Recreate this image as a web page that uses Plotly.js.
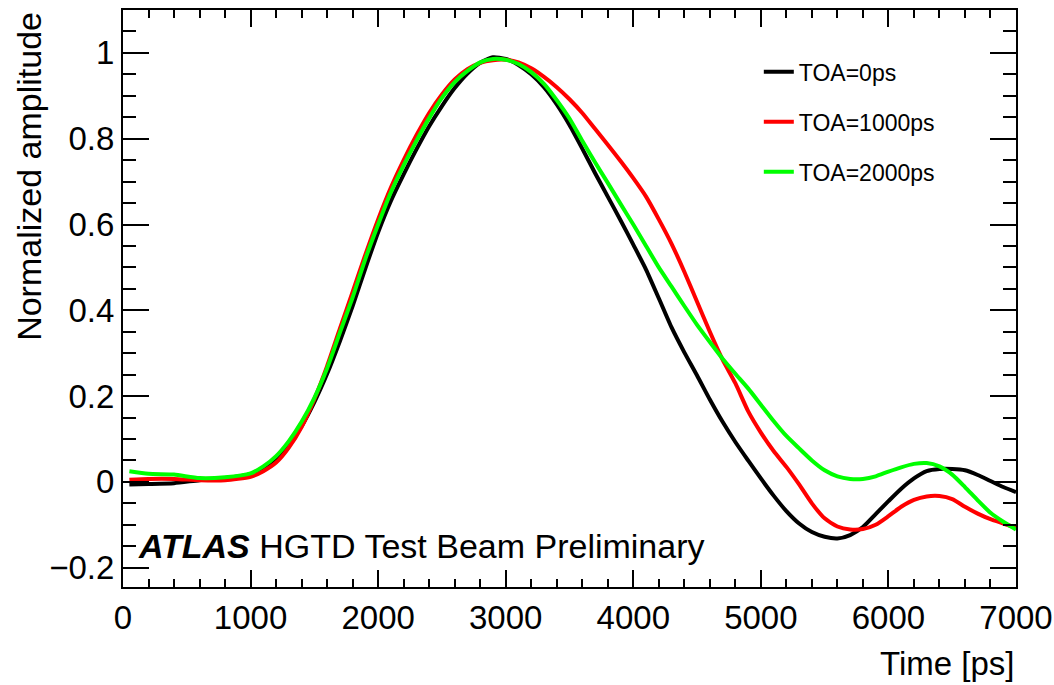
<!DOCTYPE html>
<html>
<head>
<meta charset="utf-8">
<script src="https://cdn.plot.ly/plotly-3.0.1.min.js"></script>
<style>
  html, body { margin: 0; padding: 0; background: #ffffff; }
  #chart { width: 1054px; height: 685px; }
</style>
</head>
<body>
<div id="chart"></div>
<script>
// Time samples [ps]
const timePs = [50, 200, 400, 600, 800,
  1000, 1100, 1200, 1300, 1400, 1500, 1600, 1700, 1800, 1900,
  2000, 2100, 2200, 2300, 2400, 2500, 2600, 2700, 2800, 2900,
  3000, 3100, 3200, 3300, 3400, 3500, 3600, 3700, 3800, 3900,
  4000, 4100, 4200, 4300, 4400, 4500, 4600, 4700, 4800, 4900,
  5000, 5100, 5200, 5300, 5400, 5500, 5600, 5700, 5800, 5900,
  6000, 6100, 6200, 6300, 6400, 6500, 6600, 6700, 6800, 6900, 7000];

// TOA = 0 ps (black)
const toa0 = [-0.006, -0.005, -0.003, 0.004, 0.009,
  0.018, 0.030, 0.052, 0.088, 0.130, 0.186, 0.252, 0.328, 0.410, 0.498,
  0.582, 0.655, 0.717, 0.775, 0.829, 0.876, 0.918, 0.952, 0.977, 0.990,
  0.986, 0.972, 0.950, 0.920, 0.880, 0.832, 0.777, 0.720, 0.665, 0.610,
  0.553, 0.495, 0.428, 0.360, 0.302, 0.248, 0.192, 0.140, 0.093, 0.050,
  0.008, -0.032, -0.068, -0.097, -0.117, -0.128, -0.132, -0.124, -0.105, -0.075,
  -0.045, -0.016, 0.008, 0.025, 0.030, 0.030, 0.027, 0.016, 0.002, -0.012, -0.024];

// TOA = 1000 ps (red)
const toa1000 = [0.005, 0.007, 0.007, 0.004, 0.004,
  0.012, 0.025, 0.045, 0.080, 0.128, 0.193, 0.270, 0.357, 0.443, 0.530,
  0.612, 0.686, 0.750, 0.808, 0.860, 0.903, 0.938, 0.962, 0.977, 0.983,
  0.984, 0.978, 0.964, 0.944, 0.920, 0.892, 0.860, 0.823, 0.786, 0.748,
  0.708, 0.665, 0.612, 0.555, 0.490, 0.420, 0.350, 0.285, 0.230, 0.165,
  0.115, 0.072, 0.035, -0.006, -0.050, -0.085, -0.104, -0.111, -0.110, -0.100,
  -0.080, -0.058, -0.042, -0.034, -0.033, -0.040, -0.058, -0.074, -0.087, -0.097, -0.107];

// TOA = 2000 ps (green)
const toa2000 = [0.025, 0.019, 0.017, 0.009, 0.011,
  0.020, 0.036, 0.060, 0.095, 0.140, 0.196, 0.265, 0.348, 0.430, 0.520,
  0.600, 0.675, 0.738, 0.795, 0.848, 0.895, 0.932, 0.958, 0.978, 0.986,
  0.984, 0.974, 0.955, 0.928, 0.890, 0.847, 0.795, 0.745, 0.697, 0.648,
  0.600, 0.550, 0.500, 0.455, 0.410, 0.366, 0.326, 0.287, 0.252, 0.218,
  0.180, 0.142, 0.107, 0.078, 0.050, 0.027, 0.013, 0.007, 0.007, 0.013,
  0.024, 0.034, 0.042, 0.044, 0.036, 0.017, -0.012, -0.043, -0.072, -0.093, -0.111];

const seriesNames = ["TOA=0ps", "TOA=1000ps", "TOA=2000ps"];
const seriesColors = ["#000000", "#ff0000", "#00ff00"];
const seriesValues = [toa0, toa1000, toa2000];

const FONT = "Liberation Sans, Arial, Helvetica, sans-serif";

const traces = seriesValues.map((vals, i) => ({
  type: "scatter",
  mode: "lines",
  x: timePs,
  y: vals,
  name: seriesNames[i],
  legendgroup: "g" + i,
  line: { color: seriesColors[i], width: 4, shape: "spline", smoothing: 0.6 },
  hoverinfo: "x+y+name"
}));

const axisCommon = {
  showgrid: false,
  zeroline: false,
  showline: true,
  linecolor: "#000000",
  linewidth: 2,
  mirror: "allticks",
  ticks: "inside",
  tickcolor: "#000000",
  tickwidth: 2,
  tickfont: { family: FONT, size: 33, color: "#000000" }
};

const layout = {
  width: 1054,
  height: 685,
  margin: { l: 123, r: 38, t: 10, b: 98, pad: 0 },
  paper_bgcolor: "#ffffff",
  plot_bgcolor: "#ffffff",
  font: { family: FONT, color: "#000000" },
  showlegend: true,
  legend: {
    x: 0.712, xanchor: "left",
    y: 0.93, yanchor: "top",
    bgcolor: "rgba(0,0,0,0)",
    borderwidth: 0,
    font: { family: FONT, size: 23, color: "#000000" },
    tracegroupgap: 17,
    itemwidth: 30
  },
  xaxis: Object.assign({}, axisCommon, {
    range: [0, 7000],
    tick0: 0,
    dtick: 1000,
    ticklen: 17,
    minor: { ticks: "inside", ticklen: 8, dtick: 200, tick0: 0, tickwidth: 2, tickcolor: "#000000", showgrid: false }
  }),
  yaxis: Object.assign({}, axisCommon, {
    range: [-0.245, 1.1],
    tick0: 0,
    dtick: 0.2,
    ticklen: 26,
    minor: { ticks: "inside", ticklen: 13, dtick: 0.05, tick0: 0, tickwidth: 2, tickcolor: "#000000", showgrid: false }
  }),
  annotations: [
    {
      text: "Time [ps]",
      xref: "paper", yref: "paper",
      x: 1, xanchor: "right",
      y: -0.132, yanchor: "middle",
      showarrow: false,
      font: { family: FONT, size: 33, color: "#000000" }
    },
    {
      text: "Normalized amplitude",
      xref: "paper", yref: "paper",
      x: -0.106, xanchor: "center",
      y: 1, yanchor: "top",
      textangle: -90,
      showarrow: false,
      font: { family: FONT, size: 34, color: "#000000" }
    },
    {
      text: "<b><i>ATLAS</i></b> HGTD Test Beam Preliminary",
      xref: "paper", yref: "paper",
      x: 0.015, xanchor: "left",
      y: 0.071, yanchor: "middle",
      showarrow: false,
      font: { family: FONT, size: 34, color: "#000000" }
    }
  ]
};

Plotly.newPlot("chart", traces, layout, { displayModeBar: false, staticPlot: true });
</script>
</body>
</html>
